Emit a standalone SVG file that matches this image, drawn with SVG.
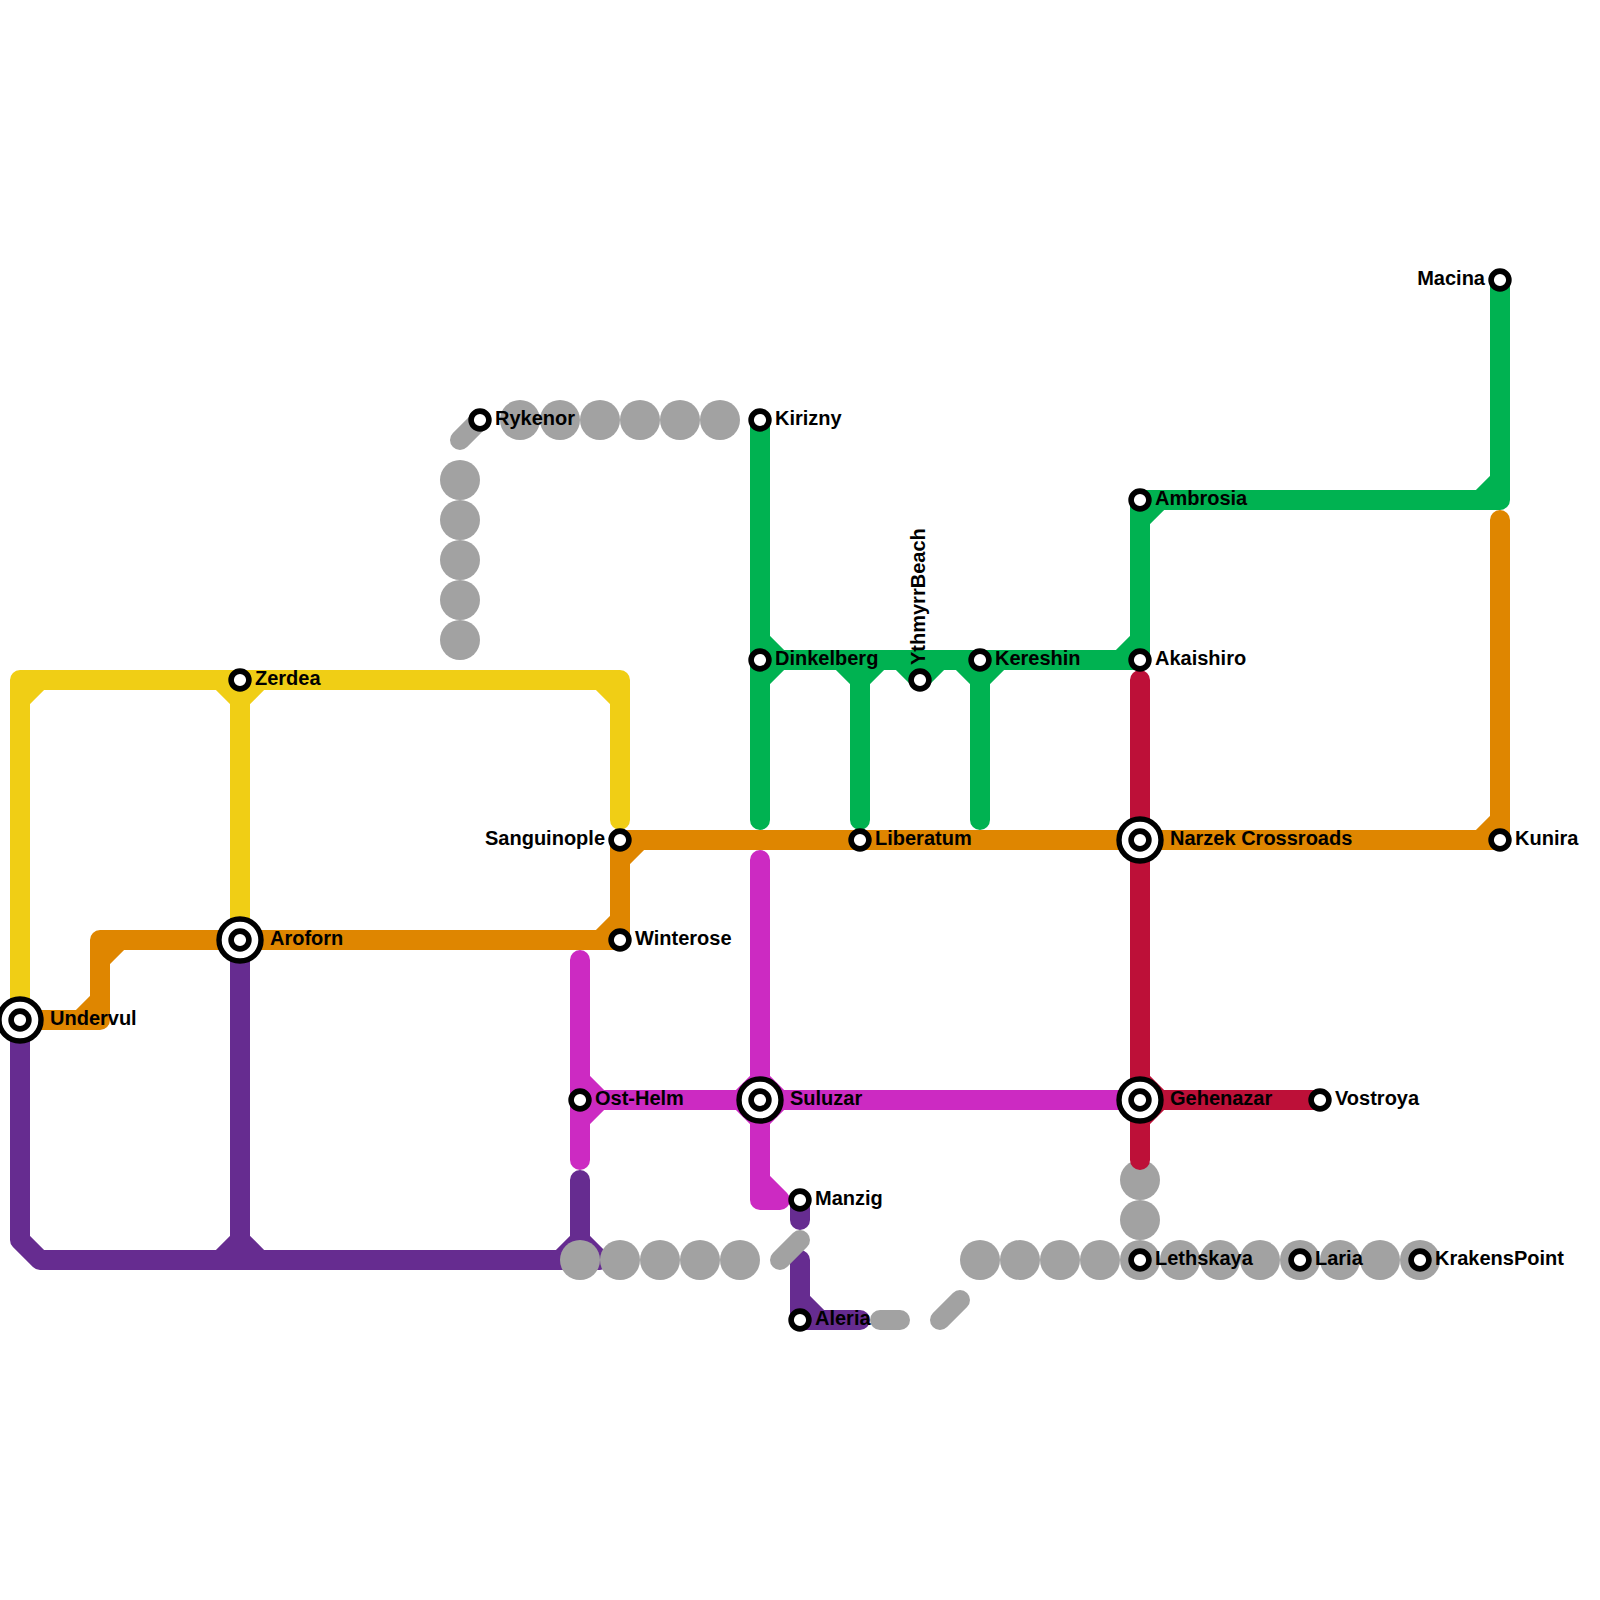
<svg xmlns="http://www.w3.org/2000/svg" width="1600" height="1600" viewBox="0 0 1600 1600">
<style>
.l{fill:none;stroke-width:20;stroke-linecap:round;stroke-linejoin:round}
.yellow{stroke:#f0ce15}.orange{stroke:#df8600}.green{stroke:#00b251}.purple{stroke:#662c90}.magenta{stroke:#cc2ac2}.red{stroke:#bd1038}.gray{stroke:#a2a2a2}
.g{fill:#a2a2a2}
.r{fill:#fff;stroke:#000;stroke-width:5.6}
.o{fill:#fff;stroke:#000;stroke-width:5.4}
text{font-family:"Liberation Sans",Arial,sans-serif;font-weight:700;font-size:20px;fill:#000}
.e{text-anchor:end}
</style>
<defs>
<g id="st"><circle r="8.9" class="r"/></g>
<g id="ix"><circle r="21" class="o"/><circle r="8.9" class="r"/></g>
</defs>
<rect width="1600" height="1600" fill="#fff"/>
<g id="connectors">
<path class="l yellow" d="M20 1020V680H620V820M240 680V940M20 700L40 680M220 680L240 700L260 680M600 680L620 700"/>
<path class="l green" d="M760 420V820M760 660H1140V500H1500V280M860 660V820M980 660V820M760 640L780 660L760 680M840 660L860 680L880 660M900 660L920 680L940 660M960 660L980 680L1000 660M1120 660L1140 640M1140 520L1160 500M1480 500L1500 480"/>
<path class="l orange" d="M20 1020H100V940H620V840H1500V520M80 1020L100 1000M100 960L120 940M600 940L620 920M620 860L640 840M1480 840L1500 820"/>
<path class="l purple" d="M240 940V1260M20 1020V1240L40 1260H600M580 1180V1260M220 1260L240 1240L260 1260M560 1260L580 1240L600 1260M800 1200V1220M800 1260V1320H860M800 1300L820 1320"/>
<path class="l magenta" d="M580 960V1160M580 1100H1140M760 860V1200H780M580 1080L600 1100L580 1120M740 1100L760 1080L780 1100L760 1120L740 1100M760 1180L780 1200"/>
<g id="gray-segments">
<g class="g"><circle cx="460" cy="480" r="20"/><circle cx="460" cy="520" r="20"/><circle cx="460" cy="560" r="20"/><circle cx="460" cy="600" r="20"/><circle cx="460" cy="640" r="20"/>
<circle cx="520" cy="420" r="20"/><circle cx="560" cy="420" r="20"/><circle cx="600" cy="420" r="20"/><circle cx="640" cy="420" r="20"/><circle cx="680" cy="420" r="20"/><circle cx="720" cy="420" r="20"/>
<circle cx="580" cy="1260" r="20"/><circle cx="620" cy="1260" r="20"/><circle cx="660" cy="1260" r="20"/><circle cx="700" cy="1260" r="20"/><circle cx="740" cy="1260" r="20"/>
<circle cx="980" cy="1260" r="20"/><circle cx="1020" cy="1260" r="20"/><circle cx="1060" cy="1260" r="20"/><circle cx="1100" cy="1260" r="20"/><circle cx="1140" cy="1260" r="20"/><circle cx="1180" cy="1260" r="20"/><circle cx="1220" cy="1260" r="20"/><circle cx="1260" cy="1260" r="20"/><circle cx="1300" cy="1260" r="20"/><circle cx="1340" cy="1260" r="20"/><circle cx="1380" cy="1260" r="20"/><circle cx="1420" cy="1260" r="20"/>
<circle cx="1140" cy="1180" r="20"/><circle cx="1140" cy="1220" r="20"/></g>
<path class="l gray" d="M460 440L480 420M780 1260L800 1240M880 1320H900M940 1320L960 1300"/>
</g>
<path class="l red" d="M1140 680V1160M1140 1100H1320M1140 1080L1160 1100L1140 1120"/>
</g>
<g id="stations">
<g id="undervul"><use href="#ix" x="20" y="1020"/><text x="50" y="1025">Undervul</text></g>
<g id="zerdea"><use href="#st" x="240" y="680"/><text x="255" y="685">Zerdea</text></g>
<g id="arofor"><use href="#ix" x="240" y="940"/><text x="270" y="945">Aroforn</text></g>
<g id="sanguinople"><use href="#st" x="620" y="840"/><text class="e" x="605" y="845">Sanguinople</text></g>
<g id="winterose"><use href="#st" x="620" y="940"/><text x="635" y="945">Winterose</text></g>
<g id="rykenor"><use href="#st" x="480" y="420"/><text x="495" y="425">Rykenor</text></g>
<g id="kirizny"><use href="#st" x="760" y="420"/><text x="775" y="425">Kirizny</text></g>
<g id="dinkelberg"><use href="#st" x="760" y="660"/><text x="775" y="665">Dinkelberg</text></g>
<g id="liberatum"><use href="#st" x="860" y="840"/><text x="875" y="845">Liberatum</text></g>
<g id="ythmyrrbeach"><use href="#st" x="920" y="680"/><text x="925" y="665" transform="rotate(-90 925 665)">YthmyrrBeach</text></g>
<g id="kereshin"><use href="#st" x="980" y="660"/><text x="995" y="665">Kereshin</text></g>
<g id="akaishiro"><use href="#st" x="1140" y="660"/><text x="1155" y="665">Akaishiro</text></g>
<g id="ambrosia"><use href="#st" x="1140" y="500"/><text x="1155" y="505">Ambrosia</text></g>
<g id="macina"><use href="#st" x="1500" y="280"/><text class="e" x="1485" y="285">Macina</text></g>
<g id="kunira"><use href="#st" x="1500" y="840"/><text x="1515" y="845">Kunira</text></g>
<g id="narzek"><use href="#ix" x="1140" y="840"/><text x="1170" y="845">Narzek Crossroads</text></g>
<g id="gehenazar"><use href="#ix" x="1140" y="1100"/><text x="1170" y="1105">Gehenazar</text></g>
<g id="vostroya"><use href="#st" x="1320" y="1100"/><text x="1335" y="1105">Vostroya</text></g>
<g id="suluzar"><use href="#ix" x="760" y="1100"/><text x="790" y="1105">Suluzar</text></g>
<g id="osthelm"><use href="#st" x="580" y="1100"/><text x="595" y="1105">Ost-Helm</text></g>
<g id="manzig"><use href="#st" x="800" y="1200"/><text x="815" y="1205">Manzig</text></g>
<g id="aleria"><use href="#st" x="800" y="1320"/><text x="815" y="1325">Aleria</text></g>
<g id="lethskaya"><use href="#st" x="1140" y="1260"/><text x="1155" y="1265">Lethskaya</text></g>
<g id="laria"><use href="#st" x="1300" y="1260"/><text x="1315" y="1265">Laria</text></g>
<g id="krakenspoint"><use href="#st" x="1420" y="1260"/><text x="1435" y="1265">KrakensPoint</text></g>
</g>
</svg>
